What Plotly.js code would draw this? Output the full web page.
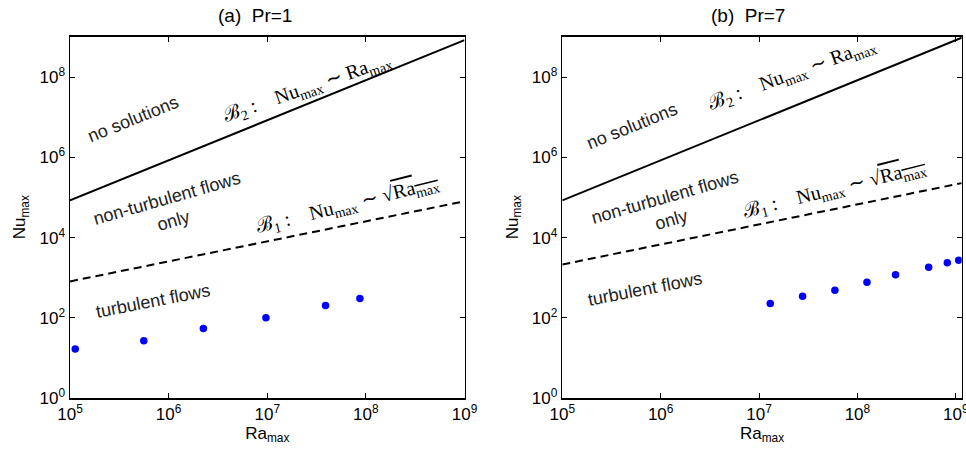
<!DOCTYPE html>
<html>
<head>
<meta charset="utf-8">
<script src="https://cdn.plot.ly/plotly-3.0.1.min.js"></script>
<style>html,body{margin:0;padding:0;background:#fff;}#plot{width:966px;height:456px;}</style>
</head>
<body>
<div id="plot"></div>
<script>
// ---- data ----
const raA = [1.13e5, 5.6e5, 2.25e6, 9.7e6, 3.9e7, 8.7e7];
const nuA = [16.8, 27, 54, 100, 204, 302];
const raB = [1.3e7, 2.77e7, 5.9e7, 1.25e8, 2.44e8, 5.3e8, 8.2e8, 1.07e9];
const nuB = [229, 347, 490, 776, 1190, 1840, 2370, 2750];
// bounds B2 (Nu ~ Ra) and B1 (Nu ~ sqrt(Ra))
const b2RaA = [1e5, 1e9];    const b2NuA = [8.5e4, 8.5e8];
const b1RaA = [1e5, 1e9];    const b1NuA = [810, 8.1e4];
const b2RaB = [1e5, 1.15e9]; const b2NuB = [8.5e4, 9.8e8];
const b1RaB = [1e5, 1.15e9]; const b1NuB = [2140, 2.3e5];
// ticks
const xTickVals = [1e5, 1e6, 1e7, 1e8, 1e9];
const xTickText = ['10<sup>5</sup>', '10<sup>6</sup>', '10<sup>7</sup>', '10<sup>8</sup>', '10<sup>9</sup>'];
const yTickVals = [1, 1e2, 1e4, 1e6, 1e8];
const yTickText = ['10<sup>0</sup>', '10<sup>2</sup>', '10<sup>4</sup>', '10<sup>6</sup>', '10<sup>8</sup>'];
const panelTitles = ['(a)\u00a0\u00a0Pr=1', '(b)\u00a0\u00a0Pr=7'];

const minorX = [];
for (let e = 5; e < 10; e++) for (let d = 2; d <= 9; d++) minorX.push(d * Math.pow(10, e));

const FONT = 'Liberation Sans, Arial, sans-serif';
const SERIF = 'Liberation Serif, DejaVu Serif, serif';

function lineTrace(x, y, ax, dash) {
  return {x: x, y: y, xaxis: ax[0], yaxis: ax[1], mode: 'lines', type: 'scatter',
          line: {color: '#000', width: 2, dash: dash}, hoverinfo: 'skip', showlegend: false};
}
function dotTrace(x, y, ax) {
  return {x: x, y: y, xaxis: ax[0], yaxis: ax[1], mode: 'markers', type: 'scatter',
          marker: {color: '#0000ff', size: 7.5}, showlegend: false};
}
const traces = [
  lineTrace(b2RaA, b2NuA, ['x', 'y'], 'solid'),
  lineTrace(b1RaA, b1NuA, ['x', 'y'], '8px,5px'),
  dotTrace(raA, nuA, ['x', 'y']),
  lineTrace(b2RaB, b2NuB, ['x2', 'y2'], 'solid'),
  lineTrace(b1RaB, b1NuB, ['x2', 'y2'], '8px,5px'),
  dotTrace(raB, nuB, ['x2', 'y2'])
];

function xAxis(domain, range, anchor) {
  return {type: 'log', domain: domain, range: range, anchor: anchor, tickvals: xTickVals, ticktext: xTickText,
    ticks: 'inside', ticklen: 5, tickwidth: 1, tickcolor: '#000', showgrid: false, zeroline: false,
    showline: true, linecolor: '#000', linewidth: 1.5, mirror: 'ticks', automargin: false,
    ticklabeloverflow: 'allow',
    tickfont: {family: FONT, size: 17, color: '#000'},
    title: {text: 'Ra<sub>max</sub>', font: {family: FONT, size: 17, color: '#000'}, standoff: 2}};
}
function minorAxis(over, domain, range, anchor) {
  return {type: 'log', overlaying: over, anchor: anchor, domain: domain, range: range,
    tickvals: minorX, showticklabels: false, ticks: 'inside', ticklen: 3, tickwidth: 1, tickcolor: '#000',
    mirror: 'ticks', showline: false, showgrid: false, zeroline: false, automargin: false};
}
function yAxis(domain, range, anchor) {
  return {type: 'log', domain: domain, range: range, tickvals: yTickVals, ticktext: yTickText,
    anchor: anchor,
    ticks: 'inside', ticklen: 5, tickwidth: 1, tickcolor: '#000', showgrid: false, zeroline: false,
    showline: true, linecolor: '#000', linewidth: 1.5, mirror: 'ticks', automargin: false,
    tickfont: {family: FONT, size: 17, color: '#000'},
    title: {text: 'Nu<sub>max</sub>', font: {family: FONT, size: 17, color: '#000'}, standoff: 9}};
}

const yDom = [1 - 398 / 456, 1 - 36.5 / 456];
const domA = [70 / 966, 464.5 / 966], domB = [562.3 / 966, 961.7 / 966];
const layout = {
  width: 966, height: 456, margin: {l: 0, r: 0, t: 0, b: 0},
  paper_bgcolor: '#fff', plot_bgcolor: 'rgba(0,0,0,0)', showlegend: false,
  xaxis: xAxis(domA, [5, 9], 'y'),
  yaxis: yAxis(yDom, [0, 9.02], 'x'),
  xaxis2: xAxis(domB, [5, 9.06], 'y2'),
  yaxis2: yAxis(yDom, [0, 9.02], 'x2'),
  xaxis3: minorAxis('x', domA, [5, 9], 'y'),
  xaxis4: minorAxis('x2', domB, [5, 9.06], 'y2'),
  annotations: []
};

const ann = layout.annotations;
function label(text, xref, yref, x, y, angle, opts) {
  ann.push(Object.assign({text: text, xref: xref, yref: yref, x: x, y: y, textangle: angle,
    showarrow: false, xanchor: 'center', yanchor: 'middle',
    font: {family: FONT, size: 18, color: '#222'}}, opts || {}));
}
// panel titles
const titleFont = {family: FONT, size: 19, color: '#000'};
label(panelTitles[0], 'paper', 'paper', 255 / 966, 1 - 15 / 456, 0, {font: titleFont});
label(panelTitles[1], 'paper', 'paper', 748 / 966, 1 - 15 / 456, 0, {font: titleFont});

const sp = '\u00a0';
const b2Text = '\u212C<sub>2</sub>' + sp + ':' + sp + sp + sp + sp + 'Nu<sub>max</sub>' + sp + '\u223C' + sp + 'Ra<sub>max</sub>';
const b1Text = '\u212C<sub>1</sub>' + sp + ':' + sp + sp + sp + sp + 'Nu<sub>max</sub>' + sp + '\u223C' + sp + '\u221A<span style="text-decoration:overline">Ra<sub>max</sub></span>';
const mathFont = {family: SERIF, size: 20, color: '#000'};

// panel (a)
label('no solutions', 'x', 'y', 5.64, 6.96, -22);
label('non-turbulent flows<br>only', 'x', 'y', 6.01, 4.71, -16);
label('turbulent flows', 'x', 'y', 5.84, 2.43, -11);
label(b2Text, 'x', 'y', 7.40, 7.73, -19, {font: mathFont});
label(b1Text, 'x', 'y', 7.81, 4.80, -14, {font: mathFont});
// panel (b)
label('no solutions', 'x2', 'y2', 5.71, 6.78, -22);
label('non-turbulent flows<br>only', 'x2', 'y2', 6.07, 4.73, -16);
label('turbulent flows', 'x2', 'y2', 5.84, 2.71, -11);
label(b2Text, 'x2', 'y2', 7.33, 8.06, -20, {font: mathFont});
label(b1Text, 'x2', 'y2', 7.77, 5.21, -14, {font: mathFont});

Plotly.newPlot('plot', traces, layout, {staticPlot: true});
</script>
</body>
</html>
